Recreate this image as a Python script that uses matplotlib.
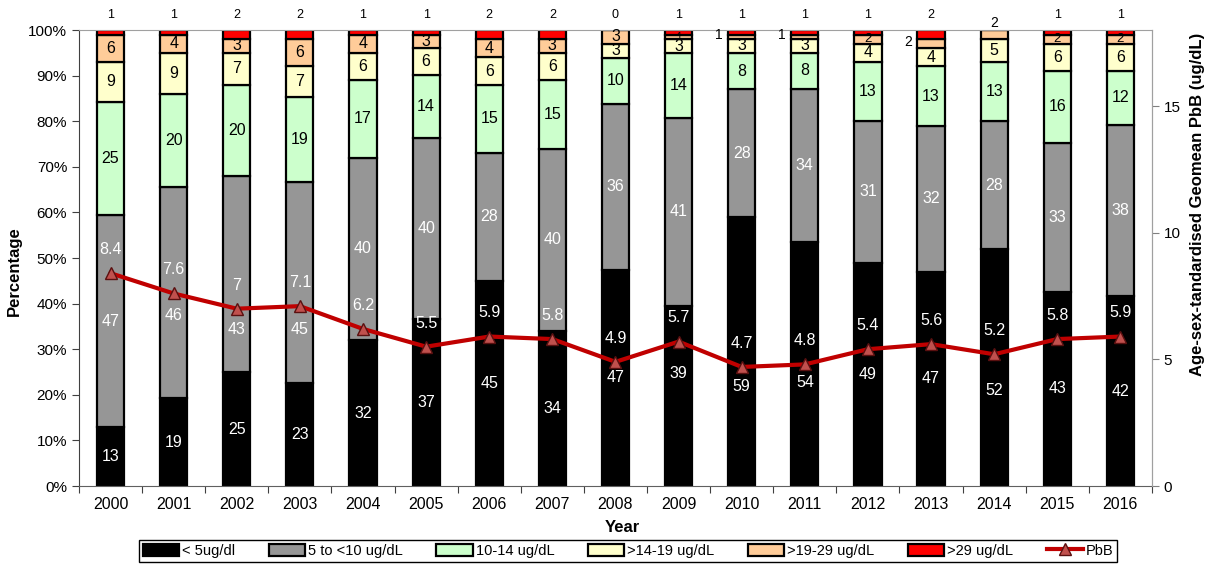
import numpy as np
import matplotlib.pyplot as plt
from matplotlib.patches import Patch
from matplotlib.lines import Line2D

plt.rcParams['font.family'] = ['Liberation Sans', 'DejaVu Sans']

# podaci ocitani sa grafika (procenti po kategoriji PbB, po godinama)
godine = list(range(2000, 2017))
ispod5 = [13, 19, 25, 23, 32, 37, 45, 34, 47, 39, 59, 54, 49, 47, 52, 43, 42]
od5do10 = [47, 46, 43, 45, 40, 40, 28, 40, 36, 41, 28, 34, 31, 32, 28, 33, 38]
od10do14 = [25, 20, 20, 19, 17, 14, 15, 15, 10, 14, 8, 8, 13, 13, 13, 16, 12]
od14do19 = [9, 9, 7, 7, 6, 6, 6, 6, 3, 3, 3, 3, 4, 4, 5, 6, 6]
od19do29 = [6, 4, 3, 6, 4, 3, 4, 3, 3, 1, 1, 1, 2, 2, 2, 2, 2]
preko29 = [1, 1, 2, 2, 1, 1, 2, 2, 0, 1, 1, 1, 1, 2, 0, 1, 1]
pbb = [8.4, 7.6, 7, 7.1, 6.2, 5.5, 5.9, 5.8, 4.9, 5.7, 4.7, 4.8, 5.4, 5.6, 5.2, 5.8, 5.9]

nazivi = ['< 5ug/dl', '5 to <10 ug/dL', '10-14 ug/dL', '>14-19 ug/dL', '>19-29 ug/dL', '>29 ug/dL']
boje = ['#000000', '#969696', '#CCFFCC', '#FFFFCC', '#FFCC99', '#FF0000']
boje_teksta = ['white', 'white', 'black', 'black', 'black', 'black']

# rucno pomerene oznake (serija, godina) -> (pomeraj x, visina u %)
pomerene = {
    (1, 2001): (0, 37.5), (1, 2002): (0, 34.4), (1, 2003): (0, 34.4),
    (0, 2009): (0, 24.6), (0, 2010): (0, 21.8), (0, 2011): (0, 22.8), (0, 2014): (0, 21.0),
    (4, 2010): (-0.37, 99.0), (4, 2011): (-0.37, 99.0), (4, 2013): (-0.37, 97.3),
    (4, 2014): (0, 101.5),
}

serije = np.array([ispod5, od5do10, od10do14, od14do19, od19do29, preko29], dtype=float)
procenti = serije / serije.sum(axis=0) * 100
x = np.arange(len(godine))

fig = plt.figure(figsize=(12.08, 5.65), dpi=100)
ax = fig.add_axes([0.0654, 0.1398, 0.8882, 0.8071])

dno = np.zeros(len(godine))
for i in range(6):
    ax.bar(x, procenti[i], 0.43, bottom=dno, color=boje[i], edgecolor='black', linewidth=1.6, zorder=2)
    for j in range(len(godine)):
        v = int(serije[i, j])
        kljuc = (i, godine[j])
        if i == 5:
            if godine[j] == 2014:
                continue
            ax.text(x[j], 103.3, str(v), ha='center', va='center', fontsize=9, clip_on=False)
        elif kljuc in pomerene:
            dx, yy = pomerene[kljuc]
            fs = 11.5 if i < 4 else 10
            ax.text(x[j] + dx, yy, str(v), ha='center', va='center', fontsize=fs,
                    color=boje_teksta[i], clip_on=False, zorder=3)
        else:
            if procenti[i, j] > 2.5:
                fs = 11.5
            elif procenti[i, j] > 1.5:
                fs = 9.5
            else:
                fs = 7
            ax.text(x[j], dno[j] + procenti[i, j] / 2, str(v), ha='center', va='center',
                    fontsize=fs, color=boje_teksta[i], zorder=3)
    dno += procenti[i]

ax.set_xlim(-0.5, len(godine) - 0.5)
ax.set_ylim(0, 100)
ax.set_yticks(np.arange(0, 101, 10))
ax.set_yticklabels([f'{v}%' for v in range(0, 101, 10)], fontsize=11)
ax.set_xticks(np.arange(-0.5, len(godine), 1))
ax.set_xticklabels([])
ax.set_xticks(x, minor=True)
ax.set_xticklabels([str(g) for g in godine], minor=True, fontsize=11.5)
ax.tick_params(axis='x', which='minor', length=0, pad=8)
ax.tick_params(axis='x', which='major', length=5, color='#404040')
ax.tick_params(axis='y', length=5, color='#404040')
ax.spines['left'].set_color('#404040')
ax.spines['bottom'].set_color('#606060')
ax.spines['top'].set_color('#A0A0A0')
ax.spines['right'].set_color('#A0A0A0')

ax2 = ax.twinx()
ax2.set_ylim(0, 18)
ax2.set_yticks([0, 5, 10, 15])
ax2.tick_params(axis='y', length=5, color='#808080', labelsize=11)
for s in ax2.spines.values():
    s.set_visible(False)
ax2.spines['right'].set_visible(True)
ax2.spines['right'].set_color('#A0A0A0')
ax2.plot(x, pbb, color='#C00000', linewidth=3, marker='^', markersize=9,
         markerfacecolor='#C0504D', markeredgecolor='#5A1010', markeredgewidth=1, zorder=4)
for j in range(len(godine)):
    ax2.annotate(f'{pbb[j]:g}', (x[j], pbb[j]), xytext=(0, 17), textcoords='offset points',
                 ha='center', va='center', color='white', fontsize=11.5, zorder=5)

fig.text(0.012, 0.52, 'Percentage', rotation=90, ha='center', va='center', fontsize=12, fontweight='bold')
fig.text(0.9915, 0.638, 'Age-sex-tandardised Geomean PbB (ug/dL)', rotation=90, ha='center', va='center',
         fontsize=12, fontweight='bold')
fig.text(0.515, 0.067, 'Year', ha='center', va='center', fontsize=12, fontweight='bold')

rucke = [Patch(facecolor=boje[i], edgecolor='black', linewidth=1.6, label=nazivi[i]) for i in range(6)]
rucke.append(Line2D([0], [0], color='#C00000', linewidth=3, marker='^', markersize=9,
                    markerfacecolor='#C0504D', markeredgecolor='#5A1010', label='PbB'))
leg = fig.legend(handles=rucke, loc='center', bbox_to_anchor=(0.52, 0.025), ncol=7, fontsize=10.5,
                 frameon=True, fancybox=False, edgecolor='black', framealpha=1,
                 handlelength=2.5, handleheight=0.85, handletextpad=0.2, columnspacing=2.3,
                 borderpad=0.25, borderaxespad=0)
leg.get_frame().set_linewidth(1)

fig.savefig('out.png', dpi=100)
